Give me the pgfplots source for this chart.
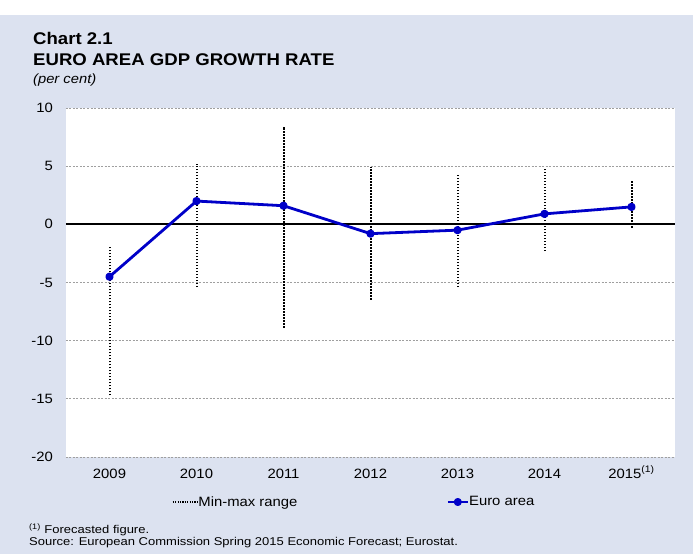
\documentclass[border=0pt]{standalone}
\usepackage{pgfplots}
\pgfplotsset{compat=1.18}
\usepackage{fontspec}
\setmainfont{Liberation Sans}[FakeStretch=1.1]
\newfontfamily\notefont{Liberation Sans}[FakeStretch=1.15]
\definecolor{bg}{RGB}{220,226,240}
\definecolor{eublue}{RGB}{0,0,200}
\begin{document}
\begin{tikzpicture}
\path[use as bounding box, fill=white] (0,0) rectangle (693pt,-554pt);
\fill[bg] (0,-15pt) rectangle (693pt,-554pt);
\node[anchor=base west, inner sep=0pt, font=\fontsize{16.9pt}{20pt}\selectfont\bfseries] at (33pt,-44pt) {Chart 2.1};
\node[anchor=base west, inner sep=0pt, font=\fontsize{16.9pt}{20pt}\selectfont\bfseries] at (33pt,-65pt) {EURO AREA GDP GROWTH RATE};
\node[anchor=base west, inner sep=0pt, font=\fontsize{13.4pt}{16pt}\selectfont\itshape] at (33pt,-83pt) {(per cent)};
\node[anchor=base west, inner sep=0pt, font=\notefont\fontsize{11.3pt}{13pt}\selectfont] at (29pt,-533pt) {\textsuperscript{(1)} Forecasted figure.};
\node[anchor=base west, inner sep=0pt, font=\notefont\fontsize{11.3pt}{13pt}\selectfont] at (29pt,-545pt) {Source: European Commission Spring 2015 Economic Forecast; Eurostat.};
\begin{axis}[
  at={(66pt,-457pt)}, anchor=south west, scale only axis,
  width=609pt, height=349pt,
  xmin=-0.5, xmax=6.5, ymin=-20, ymax=10,
  axis line style={draw=none},
  axis background/.style={fill=white},
  major tick length=0pt,
  xtick={0,1,2,3,4,5,6},
  xticklabels={2009,2010,2011,2012,2013,2014,2015\textsuperscript{(1)}},
  ytick={-20,-15,-10,-5,5,10},
  extra y ticks={0},
  extra y tick style={grid style={solid, black, line width=2pt}},
  ymajorgrids,
  grid style={gray!75, dash pattern=on 2pt off 1.5pt, line width=0.8pt},
  tick label style={font=\fontsize{13.5pt}{16pt}\selectfont, inner sep=0pt},
  /pgf/number format/assume math mode=true,
  yticklabel style={anchor=east, xshift=-13pt},
  xticklabel style={anchor=base, yshift=-21pt},
  legend columns=2,
  legend style={at={(0.174,-0.1289)}, anchor=west, draw=none, fill=none,
    inner sep=0pt, outer sep=0pt,
    font=\fontsize{13.5pt}{16pt}\selectfont,
    nodes={inner sep=0pt},
    /tikz/every even column/.append style={column sep=149pt}},
  legend cell align=left,
]
\addplot[draw=black, line width=2pt, dash pattern=on 1.5pt off 1.5pt, unbounded coords=jump,
  legend image code/.code={\draw[black, line width=1.5pt, dash pattern=on 1.2pt off 1.2pt] (0pt,0pt) -- (25pt,0pt);}]
  table {
x y
0 -14.7
0 -1.9
0.5 nan
1 -5.4
1 5.2
1.5 nan
2 -8.9
2 8.4
2.5 nan
3 -6.5
3 4.9
3.5 nan
4 -5.4
4 4.3
4.5 nan
5 -2.3
5 4.9
5.5 nan
6 -0.3
6 3.7
};
\addlegendentry{Min-max range}
\addplot[eublue, line width=2.8pt, line join=round, mark=*, mark size=2.7pt, mark options={solid, fill=eublue},
  legend image code/.code={\draw[eublue, line width=2.6pt] (0pt,0pt) -- (20pt,0pt); \fill[eublue] (10pt,0pt) circle (2.6pt);}]
  coordinates {(0,-4.5) (1,2.0) (2,1.6) (3,-0.8) (4,-0.5) (5,0.9) (6,1.5)};
\addlegendentry{Euro area}
\end{axis}
\end{tikzpicture}
\end{document}
